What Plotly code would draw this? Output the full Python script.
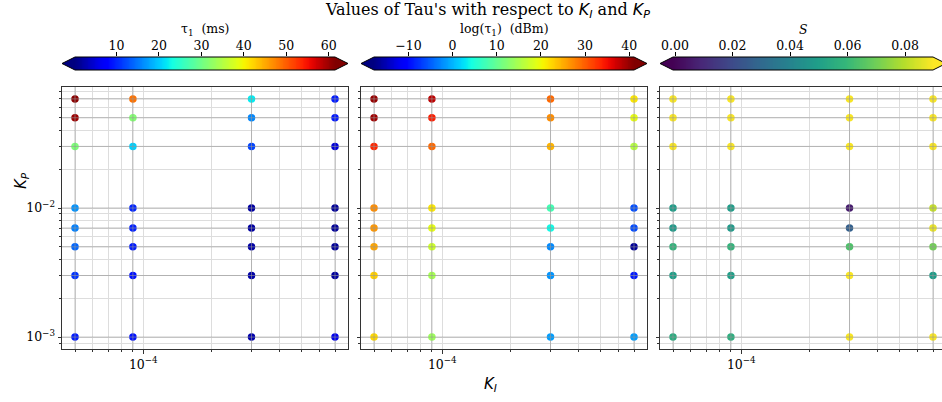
import numpy as np
import plotly.graph_objects as go

# ---------------- data ----------------
KI = [5e-5, 9e-5, 3e-4, 7e-4]
KP = [1e-3, 3e-3, 5e-3, 7e-3, 1e-2, 3e-2, 5e-2, 7e-2]

# rows follow KI, columns follow KP
tau1 = [
    [9.4, 11.0, 14.0, 15.5, 16.7, 31.0, 60.0, 61.0],
    [8.8, 8.8, 9.4, 9.7, 10.0, 20.4, 31.5, 48.6],
    [2.6, 2.3, 2.2, 2.0, 2.0, 11.8, 16.0, 22.0],
    [6.0, 1.8, 1.5, 1.5, 1.5, 5.0, 9.2, 9.4],
]
log_tau1 = [
    [22.3, 22.8, 25.5, 26.4, 27.0, 33.4, 39.5, 40.0],
    [14.0, 14.6, 17.5, 19.3, 21.4, 29.3, 34.0, 38.0],
    [-1.3, -1.9, -2.5, 4.0, 7.5, 24.6, 27.0, 29.3],
    [-1.3, -9.0, -16.6, -6.2, -6.0, 15.8, 19.3, 21.4],
]
S = [
    [0.055, 0.050, 0.058, 0.048, 0.049, 0.089, 0.089, 0.089],
    [0.056, 0.050, 0.058, 0.048, 0.049, 0.089, 0.089, 0.089],
    [0.089, 0.089, 0.064, 0.027, 0.0065, 0.089, 0.089, 0.089],
    [0.089, 0.049, 0.070, 0.087, 0.082, 0.089, 0.089, 0.089],
]

x_tick_vals = [1e-4]
x_tick_text = ["10<sup>−4</sup>"]
y_tick_vals = [1e-3, 1e-2]
y_tick_text = ["10<sup>−3</sup>", "10<sup>−2</sup>"]

cb_titles = ["τ<sub>1</sub>  (ms)", "log(τ<sub>1</sub>)  (dBm)", "<i>S</i>"]
cb_limits = [(0.2, 61.5), (-17.8, 41.1), (-0.0007, 0.0897)]
cb_ticks = [[10, 20, 30, 40, 50, 60], [-10, 0, 10, 20, 30, 40], [0.0, 0.02, 0.04, 0.06, 0.08]]
cb_ticktext = [["10", "20", "30", "40", "50", "60"],
               ["−10", "0", "10", "20", "30", "40"],
               ["0.00", "0.02", "0.04", "0.06", "0.08"]]

title_text = ("Values of Tau's with respect to "
              "<span style='font-family:DejaVu Sans'><i>K<sub>I</sub></i></span> and "
              "<span style='font-family:DejaVu Sans'><i>K<sub>P</sub></i></span>")

# ---------------- styling / layout constants ----------------
W, H = 942, 402
SERIF = "DejaVu Serif"
SANS = "DejaVu Sans"
panel_left = [62, 361, 660]
panel_w = 286
panel_top, panel_bot = 87, 349
cb_top, cb_bot = 57, 70
LIGHT = "#dddddd"
DARK = "rgba(150,150,150,0.6)"
SPINE = "#333333"


def jet_colorscale(n=41):
    f = np.linspace(0, 1, n)
    r = np.interp(f, [0, 0.35, 0.66, 0.89, 1], [0, 0, 1, 1, 0.5])
    g = np.interp(f, [0, 0.125, 0.375, 0.64, 0.91, 1], [0, 0, 1, 1, 0, 0])
    b = np.interp(f, [0, 0.11, 0.34, 0.65, 1], [0.5, 1, 1, 0, 0])
    return [[float(fi), f"rgb({int(round(ri*255))},{int(round(gi*255))},{int(round(bi*255))})"]
            for fi, ri, gi, bi in zip(f, r, g, b)]


JET = jet_colorscale()
scales = [JET, JET, "Viridis"]
end_colors = [("rgb(0,0,128)", "rgb(128,0,0)"), ("rgb(0,0,128)", "rgb(128,0,0)"),
              ("#440154", "#fde725")]
values = [tau1, log_tau1, S]

px = lambda v: v / W
py = lambda v: 1 - v / H

lx = np.log10(KI)
ly = np.log10(KP)
xlo = lx.min() - 0.05 * (lx.max() - lx.min())
xhi = lx.max() + 0.05 * (lx.max() - lx.min())
ylo = ly.min() - 0.05 * (ly.max() - ly.min())
yhi = ly.max() + 0.05 * (ly.max() - ly.min())

minor_x = [k * 10.0 ** e for e in range(-6, -1) for k in range(2, 10)]
minor_y = [k * 10.0 ** e for e in range(-5, 0) for k in range(2, 10)]

fig = go.Figure()
layout = dict(width=W, height=H,
              margin=dict(l=0, r=0, t=0, b=0, pad=0, autoexpand=False),
              paper_bgcolor="white", plot_bgcolor="white", showlegend=False)
shapes = []
annotations = []


def name(prefix, n):
    return prefix if n == 1 else f"{prefix}{n}"


for i in range(3):
    n = i + 1
    left = panel_left[i]
    right = min(left + panel_w, W)
    vis = right - left
    x_hi = xlo + (xhi - xlo) * vis / panel_w
    vmin, vmax = cb_limits[i]

    xs = [k for k in KI for _ in KP]
    ys = [p for _ in KI for p in KP]
    cs = [v for row in values[i] for v in row]
    fig.add_trace(go.Scatter(
        x=xs, y=ys, mode="markers", xaxis=name("x", n), yaxis=name("y", n),
        marker=dict(size=7.5, color=cs, colorscale=scales[i], cmin=vmin, cmax=vmax,
                    line=dict(width=0)),
        hoverinfo="skip"))

    common = dict(showline=True, mirror=True, linecolor=SPINE, linewidth=1,
                  showgrid=True, gridcolor=LIGHT, gridwidth=1.4, zeroline=False,
                  ticks="outside", ticklen=3.5, tickcolor=SPINE, automargin=False,
                  tickfont=dict(family=SERIF, size=12.5, color="black"))
    layout[name("xaxis", n)] = dict(
        type="log", domain=[px(left), px(right)], range=[xlo, x_hi],
        anchor=name("y", n), tickvals=x_tick_vals, ticktext=x_tick_text,
        minor=dict(tickvals=minor_x, ticks="outside", ticklen=2, tickcolor=SPINE,
                   showgrid=True, gridcolor=LIGHT, gridwidth=1.4),
        **common)
    layout[name("yaxis", n)] = dict(
        type="log", domain=[py(panel_bot), py(panel_top)], range=[ylo, yhi],
        anchor=name("x", n), tickvals=y_tick_vals, ticktext=y_tick_text,
        showticklabels=(i == 0),
        minor=dict(tickvals=minor_y, ticks="outside", ticklen=2, tickcolor=SPINE,
                   showgrid=True, gridcolor=LIGHT, gridwidth=1.4),
        **common)

    # grid lines at data positions, drawn over the markers
    for k in KI:
        shapes.append(dict(type="line", xref=name("x", n), yref=name("y", n) + " domain",
                           x0=k, x1=k, y0=0, y1=1, layer="above",
                           line=dict(color=DARK, width=1)))
    for p in KP:
        shapes.append(dict(type="line", xref=name("x", n) + " domain", yref=name("y", n),
                           x0=0, x1=1, y0=p, y1=p, layer="above",
                           line=dict(color=DARK, width=1)))

    # ---- horizontal colorbar with extension triangles ----
    m = 3 + n
    interior = panel_w / 1.1
    tri = 0.05 * interior
    rx0 = left + tri
    rx1 = left + panel_w - tri
    grad = np.linspace(vmin, vmax, 300)
    fig.add_trace(go.Heatmap(
        x=grad, y=[0], z=[grad], colorscale=scales[i], zmin=vmin, zmax=vmax,
        showscale=False, xaxis=f"x{m}", yaxis=f"y{m}", hoverinfo="skip"))
    layout[f"xaxis{m}"] = dict(
        domain=[px(rx0), px(min(rx1, W))],
        range=[vmin, vmin + (vmax - vmin) * (min(rx1, W) - rx0) / (rx1 - rx0)],
        anchor=f"y{m}", side="top", showgrid=False, zeroline=False, showline=False,
        automargin=False, ticklabelstandoff=-3,
        tickvals=cb_ticks[i], ticktext=cb_ticktext[i], ticks="outside", ticklen=4,
        tickcolor="black", tickfont=dict(family=SERIF, size=12.5, color="black"))
    layout[f"yaxis{m}"] = dict(domain=[py(cb_bot), py(cb_top)], range=[-0.5, 0.5],
                               anchor=f"x{m}", visible=False, automargin=False)
    ym = (cb_top + cb_bot) / 2
    tip_l, tip_r = left, left + panel_w
    shapes.append(dict(type="path", xref="paper", yref="paper", layer="above",
                       path=f"M {px(tip_l)},{py(ym)} L {px(rx0)},{py(cb_top)} L {px(rx0)},{py(cb_bot)} Z",
                       fillcolor=end_colors[i][0], line=dict(width=0)))
    shapes.append(dict(type="path", xref="paper", yref="paper", layer="above",
                       path=f"M {px(tip_r)},{py(ym)} L {px(rx1)},{py(cb_top)} L {px(rx1)},{py(cb_bot)} Z",
                       fillcolor=end_colors[i][1], line=dict(width=0)))
    shapes.append(dict(type="path", xref="paper", yref="paper", layer="above",
                       path=(f"M {px(tip_l)},{py(ym)} L {px(rx0)},{py(cb_top)} L {px(rx1)},{py(cb_top)} "
                             f"L {px(tip_r)},{py(ym)} L {px(rx1)},{py(cb_bot)} L {px(rx0)},{py(cb_bot)} Z"),
                       fillcolor="rgba(0,0,0,0)", line=dict(color="black", width=1)))
    annotations.append(dict(text=cb_titles[i], xref="paper", yref="paper",
                            x=px(left + panel_w / 2), y=py(30), xanchor="center", yanchor="middle",
                            showarrow=False, font=dict(family=SERIF, size=12.5, color="black")))

annotations.append(dict(text=title_text, xref="paper", yref="paper", x=px(487), y=py(10),
                        xanchor="center", yanchor="middle", showarrow=False,
                        font=dict(family=SERIF, size=16, color="black")))
annotations.append(dict(text="<i>K<sub>I</sub></i>", xref="paper", yref="paper",
                        x=px(490), y=py(384), xanchor="center", yanchor="middle",
                        showarrow=False, font=dict(family=SANS, size=15, color="black")))
annotations.append(dict(text="<i>K<sub>P</sub></i>", xref="paper", yref="paper",
                        x=px(21), y=py(181), xanchor="center", yanchor="middle", textangle=-90,
                        showarrow=False, font=dict(family=SANS, size=15, color="black")))

layout["shapes"] = shapes
layout["annotations"] = annotations
fig.update_layout(**layout)
fig.write_html("out.html")
